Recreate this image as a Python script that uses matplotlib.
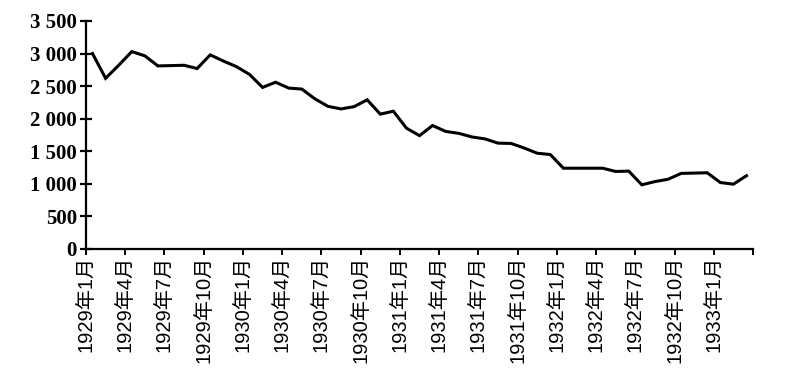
import matplotlib
matplotlib.use("Agg")
import matplotlib.pyplot as plt
import numpy as np

# monthly values, 1929-01 .. 1933-03
values = [3000, 2620, 2820, 3030, 2965, 2810, 2815, 2820, 2770, 2980,
          2885, 2800, 2680, 2480, 2560, 2470, 2455, 2305, 2190, 2150,
          2185, 2290, 2070, 2115, 1855, 1740, 1895, 1805, 1775, 1720,
          1690, 1625, 1620, 1550, 1470, 1450, 1240, 1240, 1240, 1240,
          1190, 1195, 985, 1035, 1070, 1160, 1165, 1170, 1020, 995,
          1125]

tick_labels = ['1929年1月', '1929年4月', '1929年7月', '1929年10月',
               '1930年1月', '1930年4月', '1930年7月', '1930年10月',
               '1931年1月', '1931年4月', '1931年7月', '1931年10月',
               '1932年1月', '1932年4月', '1932年7月', '1932年10月',
               '1933年1月', '']

y_ticks = [0, 500, 1000, 1500, 2000, 2500, 3000, 3500]
y_labels = ['0', '500', '1 000', '1 500', '2 000', '2 500', '3 000', '3 500']

fig = plt.figure(figsize=(7.91, 3.68), dpi=100)
ax = fig.add_axes([0.1087, 0.3234, 0.8433, 0.6196])

x = np.arange(len(values))
ax.plot(x, values, color='black', linewidth=2.2, solid_joinstyle='miter')

# ticks sit between the monthly categories
ax.set_xlim(-0.5, len(values) - 0.5)
ax.set_ylim(0, 3500)
ax.set_xticks(np.arange(len(tick_labels)) * 3 - 0.5)
ax.set_xticklabels(tick_labels, rotation=90, fontsize=14.5,
                   family=['Liberation Sans', 'Noto Sans CJK SC'])
ax.set_yticks(y_ticks)
ax.set_yticklabels(y_labels, fontsize=15, family='Liberation Serif',
                   fontweight='bold')

for s in ['top', 'right']:
    ax.spines[s].set_visible(False)
for s in ['left', 'bottom']:
    ax.spines[s].set_linewidth(1.6)
ax.tick_params(axis='y', direction='inout', length=9, width=1.6, pad=2)
ax.tick_params(axis='x', direction='out', length=4, width=1.4, pad=1)

fig.savefig('out.png', dpi=100)
